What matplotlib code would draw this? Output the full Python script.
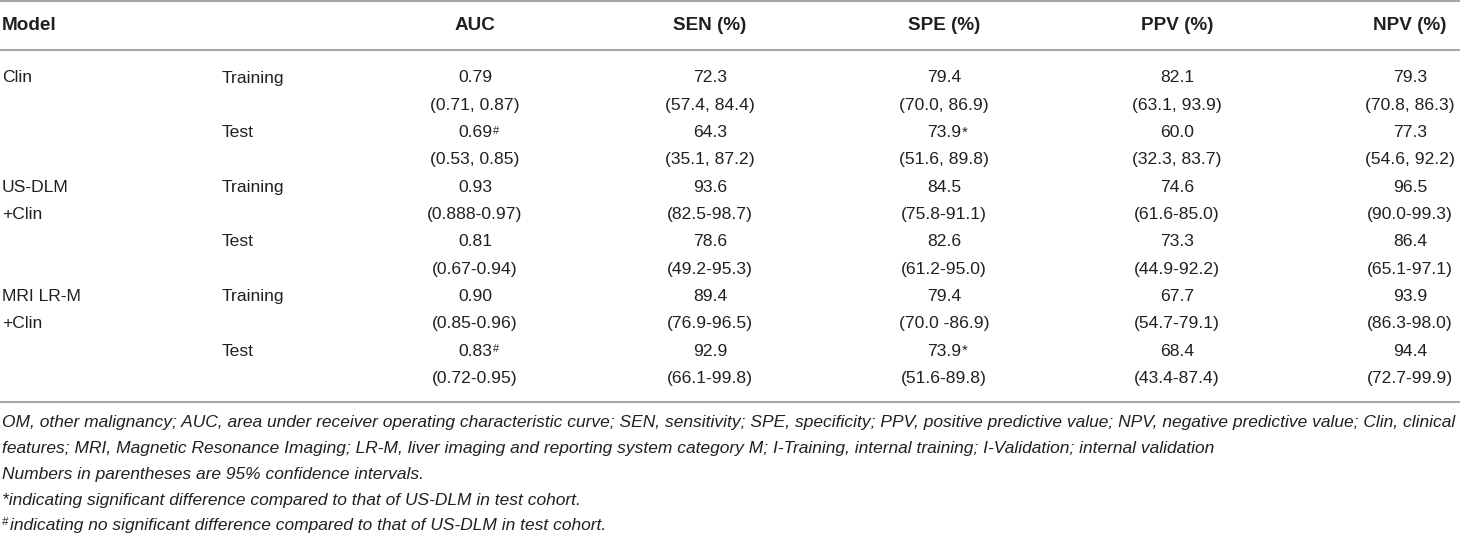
import matplotlib
matplotlib.use("Agg")
import matplotlib.pyplot as plt
from matplotlib import font_manager

# --- table content ---
headers = ["Model", "", "AUC", "SEN (%)", "SPE (%)", "PPV (%)", "NPV (%)"]
model_names = [["Clin"], ["US-DLM", "+Clin"], ["MRI LR-M", "+Clin"]]
cohorts = ["Training", "Test"]

auc = [0.79, 0.69, 0.93, 0.81, 0.90, 0.83]
auc_ci = ["(0.71, 0.87)", "(0.53, 0.85)", "(0.888-0.97)", "(0.67-0.94)", "(0.85-0.96)", "(0.72-0.95)"]
auc_mark = ["", "#", "", "", "", "#"]

sen = [72.3, 64.3, 93.6, 78.6, 89.4, 92.9]
sen_ci = ["(57.4, 84.4)", "(35.1, 87.2)", "(82.5-98.7)", "(49.2-95.3)", "(76.9-96.5)", "(66.1-99.8)"]

spe = [79.4, 73.9, 84.5, 82.6, 79.4, 73.9]
spe_ci = ["(70.0, 86.9)", "(51.6, 89.8)", "(75.8-91.1)", "(61.2-95.0)", "(70.0 -86.9)", "(51.6-89.8)"]
spe_mark = ["", "*", "", "", "", "*"]

ppv = [82.1, 60.0, 74.6, 73.3, 67.7, 68.4]
ppv_ci = ["(63.1, 93.9)", "(32.3, 83.7)", "(61.6-85.0)", "(44.9-92.2)", "(54.7-79.1)", "(43.4-87.4)"]

npv = [79.3, 77.3, 96.5, 86.4, 93.9, 94.4]
npv_ci = ["(70.8, 86.3)", "(54.6, 92.2)", "(90.0-99.3)", "(65.1-97.1)", "(86.3-98.0)", "(72.7-99.9)"]

footnotes = [
    "OM, other malignancy; AUC, area under receiver operating characteristic curve; SEN, sensitivity; SPE, specificity; "
    "PPV, positive predictive value; NPV, negative predictive value; Clin, clinical",
    "features; MRI, Magnetic Resonance Imaging; LR-M, liver imaging and reporting system category M; "
    "I-Training, internal training; I-Validation; internal validation",
    "Numbers in parentheses are 95% confidence intervals.",
    "*indicating significant difference compared to that of US-DLM in test cohort.",
    "indicating no significant difference compared to that of US-DLM in test cohort.",
]

# --- fonts / style ---
names = {f.name for f in font_manager.fontManager.ttflist}
if "Liberation Sans Narrow" in names:
    FAMILY = ["Liberation Sans Narrow"]
    FS = 15
else:
    FAMILY = ["Liberation Sans"]
    FS = 12.6
FS_HEAD = FS * 1.08
plt.rcParams["font.family"] = FAMILY + ["DejaVu Sans"]

TXT = "#231f20"
RULE = "#a6a6a6"

W, H = 1460, 537
fig = plt.figure(figsize=(W / 100, H / 100), dpi=100)
ax = fig.add_axes([0, 0, 1, 1])
ax.set_xlim(0, W)
ax.set_ylim(H, 0)
ax.axis("off")

col_x = [2, 222, 475, 710, 944, 1177, 1410]
header_y = 26
row_y0 = 78
row_step = 27.3

# rules
for y in [1, 50, 402]:
    ax.plot([0, W], [y, y], color=RULE, lw=1.5, solid_capstyle="butt")

# header
for i, h in enumerate(headers):
    if not h:
        continue
    ha = "left" if i < 2 else "center"
    ax.text(col_x[i], header_y, h, ha=ha, va="center", fontsize=FS_HEAD,
            fontweight="bold", color=TXT)

columns = [(auc, auc_ci, "{:.2f}"), (sen, sen_ci, "{:.1f}"), (spe, spe_ci, "{:.1f}"),
           (ppv, ppv_ci, "{:.1f}"), (npv, npv_ci, "{:.1f}")]
marks = {0: auc_mark, 2: spe_mark}

for m, lines in enumerate(model_names):
    base = m * 4
    for k, name in enumerate(lines):
        ax.text(col_x[0], row_y0 + (base + k) * row_step, name, ha="left",
                va="center", fontsize=FS, color=TXT)
    for c, cohort in enumerate(cohorts):
        r = m * 2 + c
        y_val = row_y0 + (base + c * 2) * row_step
        y_ci = y_val + row_step
        ax.text(col_x[1], y_val, cohort, ha="left", va="center", fontsize=FS, color=TXT)
        for j, (vals, cis, fmt) in enumerate(columns):
            x = col_x[j + 2]
            t = ax.text(x, y_val, fmt.format(vals[r]), ha="center", va="center",
                        fontsize=FS, color=TXT)
            mk = marks[j][r] if j in marks else ""
            if mk:
                size = FS * (0.62 if mk == "#" else 0.85)
                ax.annotate(mk, xy=(1, 0.95), xycoords=t, xytext=(0.5, 0),
                            textcoords="offset points", ha="left", va="top",
                            fontsize=size, color=TXT)
            ax.text(x, y_ci, cis[r], ha="center", va="center", fontsize=FS, color=TXT)

# footnotes: size fitted so the first line spans the table width
renderer = fig.canvas.get_renderer()
probe = ax.text(2, 0, footnotes[0], fontsize=12, style="italic")
probe_w = probe.get_window_extent(renderer).width
probe.remove()
FS_NOTE = 12 * 1452 / probe_w

note_y0 = 423
note_step = 25.7
for i, line in enumerate(footnotes):
    y = note_y0 + i * note_step
    x = 2
    if i == len(footnotes) - 1:
        ax.text(x, y - 4, "#", ha="left", va="center", fontsize=FS_NOTE * 0.65,
                style="italic", color=TXT)
        x = 10
    ax.text(x, y, line, ha="left", va="center", fontsize=FS_NOTE, style="italic", color=TXT)

fig.savefig("out.png", dpi=100, facecolor="white")
